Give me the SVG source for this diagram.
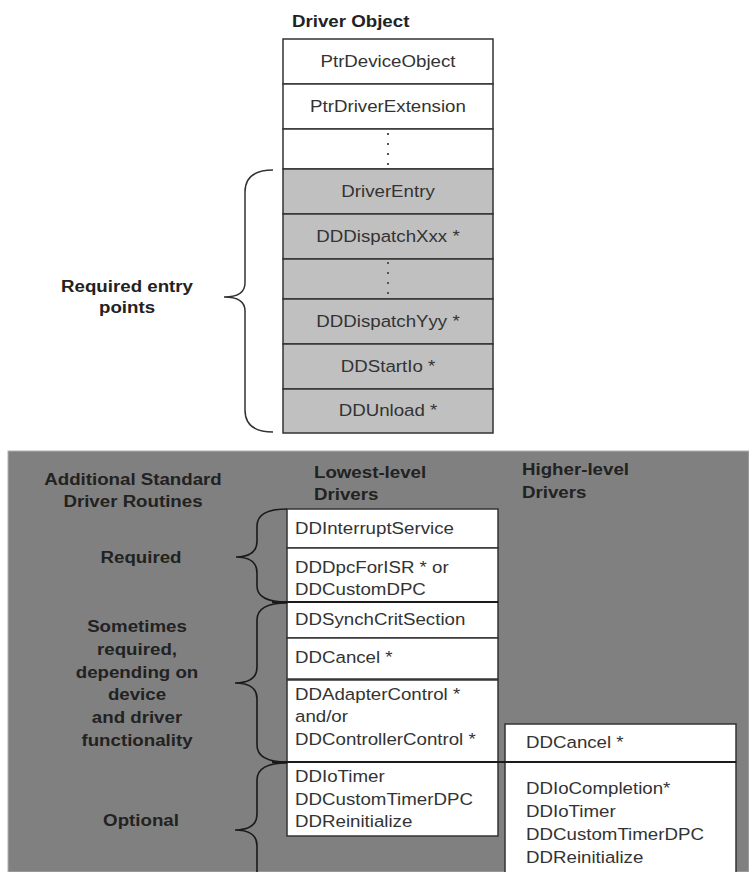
<svg xmlns="http://www.w3.org/2000/svg" width="749" height="872" viewBox="0 0 749 872">
<style>
  text { font-family: "Liberation Sans", Arial, sans-serif; font-size: 17px; fill: #333; }
  .b { font-weight: bold; fill: #222; }
  .m { text-anchor: middle; }
  .w { fill: #fff; stroke: #333; stroke-width: 1.5; }
  .g { fill: #c0c0c0; stroke: #333; stroke-width: 1.5; }
  .brace { fill: none; stroke: #333; stroke-width: 1.5; }
  .brace2 { fill: none; stroke: #1a1a1a; stroke-width: 1.6; }
  .dots { stroke: #555; stroke-width: 2; stroke-dasharray: 2 8; }
  .sep { stroke: #1a1a1a; stroke-width: 2; }
</style>
<rect width="749" height="872" fill="#fff"/>

<g id="driver-object">
  <text class="b" transform="translate(292,27) scale(1.1,1)">Driver Object</text>
  <rect class="w" x="283" y="39" width="210" height="45"/>
  <text class="m" transform="translate(388,67) scale(1.1,1)">PtrDeviceObject</text>
  <rect class="w" x="283" y="84" width="210" height="45"/>
  <text class="m" transform="translate(388,112) scale(1.1,1)">PtrDriverExtension</text>
  <rect class="w" x="283" y="129" width="210" height="40"/>
  <line class="dots" x1="388" y1="133" x2="388" y2="166"/>
  <rect class="g" x="283" y="169" width="210" height="45"/>
  <text class="m" transform="translate(388,197) scale(1.1,1)">DriverEntry</text>
  <rect class="g" x="283" y="214" width="210" height="45"/>
  <text class="m" transform="translate(388,242) scale(1.1,1)">DDDispatchXxx *</text>
  <rect class="g" x="283" y="259" width="210" height="40"/>
  <line class="dots" x1="388" y1="262" x2="388" y2="296"/>
  <rect class="g" x="283" y="299" width="210" height="45"/>
  <text class="m" transform="translate(388,327) scale(1.1,1)">DDDispatchYyy *</text>
  <rect class="g" x="283" y="344" width="210" height="45"/>
  <text class="m" transform="translate(388,372) scale(1.1,1)">DDStartIo *</text>
  <rect class="g" x="283" y="389" width="210" height="44"/>
  <text class="m" transform="translate(388,416) scale(1.1,1)">DDUnload *</text>
</g>

<g id="required-entry-points">
  <path class="brace" d="M273,170 Q245,170 245,192 L245,283 Q245,297 224,297 Q245,297 245,311 L245,410 Q245,432 273,432"/>
  <text class="b m" transform="translate(127,292) scale(1.1,1)">Required entry</text>
  <text class="b m" transform="translate(127,313) scale(1.1,1)">points</text>
</g>

<g id="routines-panel">
  <rect x="8" y="451" width="741" height="421" fill="#808080" stroke="#b0b0b0" stroke-width="1"/>
  <text class="b m" transform="translate(133,485) scale(1.1,1)">Additional Standard</text>
  <text class="b m" transform="translate(133,507) scale(1.1,1)">Driver Routines</text>
  <text class="b" transform="translate(314,478) scale(1.1,1)">Lowest-level</text>
  <text class="b" transform="translate(314,500) scale(1.1,1)">Drivers</text>
  <text class="b" transform="translate(522,475) scale(1.1,1)">Higher-level</text>
  <text class="b" transform="translate(522,498) scale(1.1,1)">Drivers</text>
</g>

<g id="required">
  <text class="b m" transform="translate(141,563) scale(1.1,1)">Required</text>
</g>
<g id="sometimes">
  <text class="b m" transform="translate(137,632) scale(1.1,1)">Sometimes</text>
  <text class="b m" transform="translate(137,655) scale(1.1,1)">required,</text>
  <text class="b m" transform="translate(137,678) scale(1.1,1)">depending on</text>
  <text class="b m" transform="translate(137,700) scale(1.1,1)">device</text>
  <text class="b m" transform="translate(137,723) scale(1.1,1)">and driver</text>
  <text class="b m" transform="translate(137,746) scale(1.1,1)">functionality</text>
</g>
<g id="optional">
  <text class="b m" transform="translate(141,826) scale(1.1,1)">Optional</text>
</g>

<g id="lowest-level">
  <rect class="w" x="287" y="509" width="211" height="39"/>
  <text transform="translate(295,534) scale(1.1,1)">DDInterruptService</text>
  <rect class="w" x="287" y="548" width="211" height="54"/>
  <text transform="translate(295,573) scale(1.1,1)">DDDpcForISR * or</text>
  <text transform="translate(295,595) scale(1.1,1)">DDCustomDPC</text>
  <rect class="w" x="287" y="602" width="211" height="36"/>
  <text transform="translate(295,625) scale(1.1,1)">DDSynchCritSection</text>
  <rect class="w" x="287" y="638" width="211" height="41"/>
  <text transform="translate(295,663) scale(1.1,1)">DDCancel *</text>
  <rect class="w" x="287" y="680" width="211" height="82"/>
  <text transform="translate(295,700) scale(1.1,1)">DDAdapterControl *</text>
  <text transform="translate(295,722) scale(1.1,1)">and/or</text>
  <text transform="translate(295,745) scale(1.1,1)">DDControllerControl *</text>
  <rect class="w" x="287" y="762" width="211" height="74"/>
  <text transform="translate(295,782) scale(1.1,1)">DDIoTimer</text>
  <text transform="translate(295,805) scale(1.1,1)">DDCustomTimerDPC</text>
  <text transform="translate(295,827) scale(1.1,1)">DDReinitialize</text>
</g>

<g id="higher-level">
  <rect class="w" x="505" y="724" width="231" height="38"/>
  <text transform="translate(526,748) scale(1.1,1)">DDCancel *</text>
  <rect class="w" x="505" y="762" width="231" height="118"/>
  <text transform="translate(526,794) scale(1.1,1)">DDIoCompletion*</text>
  <text transform="translate(526,817) scale(1.1,1)">DDIoTimer</text>
  <text transform="translate(526,840) scale(1.1,1)">DDCustomTimerDPC</text>
  <text transform="translate(526,863) scale(1.1,1)">DDReinitialize</text>
</g>

<g id="connectors">
  <path class="brace2" d="M287,509 Q257,509 257,526 L257,541 Q257,557 236,557 Q257,557 257,573 L257,586 Q257,602 287,602"/>
  <path class="brace2" d="M287,603 Q257,603 257,620 L257,667 Q257,683 235,683 Q257,683 257,699 L257,745 Q257,762 287,762"/>
  <path class="brace2" d="M287,763 Q257,763 257,780 L257,814 Q257,830 235,830 Q257,830 257,846 L257,880"/>
  <line class="sep" x1="272" y1="602" x2="498" y2="602"/>
  <line class="sep" x1="272" y1="762" x2="736" y2="762"/>
</g>
</svg>
